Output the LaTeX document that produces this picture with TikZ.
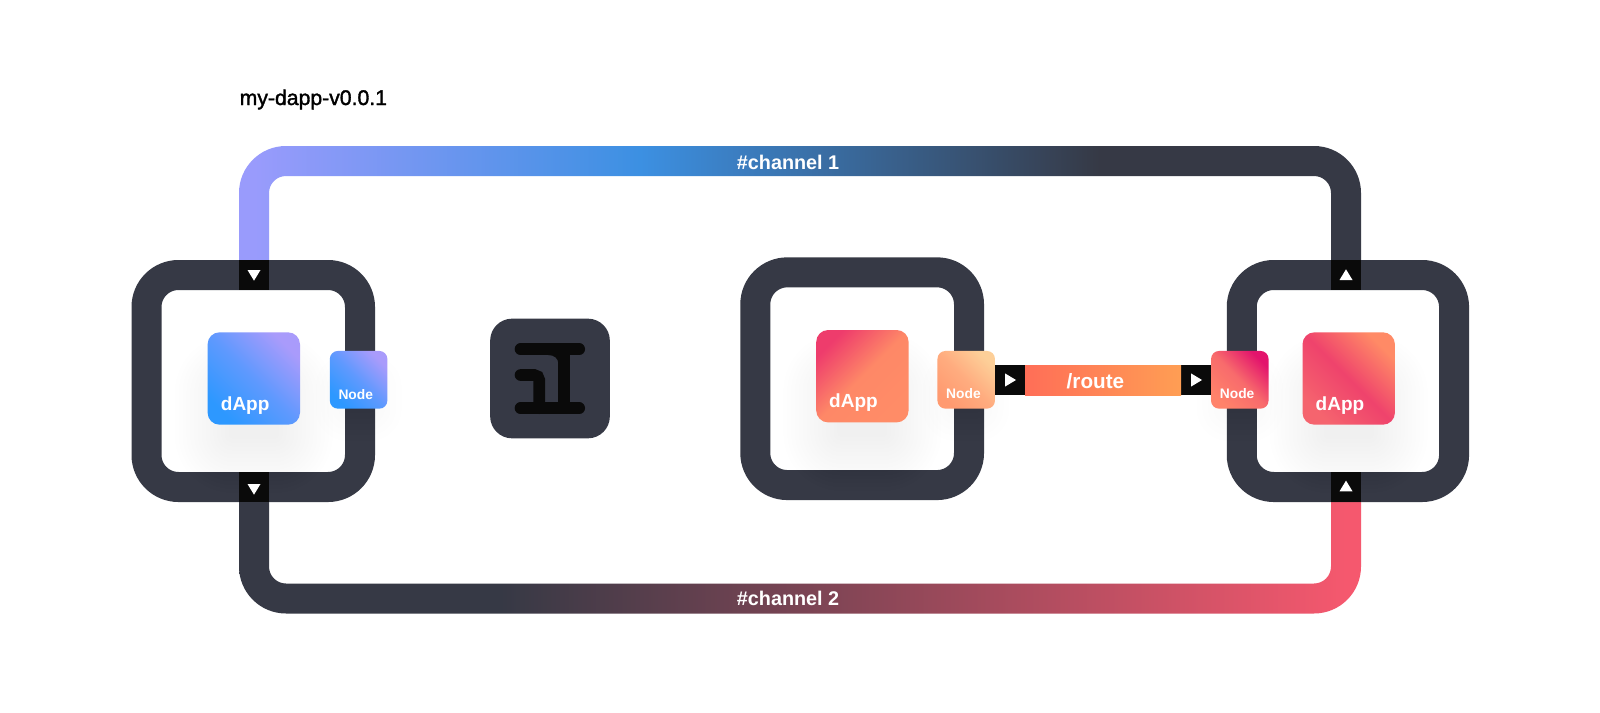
\documentclass[tikz,border=0pt]{standalone}
\usepackage{fontspec}
\setmainfont{Liberation Sans}
\newfontfamily\titlefont[FakeBold=1.6]{Liberation Sans}
\usetikzlibrary{backgrounds}
\definecolor{ringc}{HTML}{363945}
\definecolor{portc}{HTML}{0A0A0A}
\definecolor{shadowc}{HTML}{1E2A3A}
\definecolor{chA}{HTML}{999BFC}
\definecolor{chB}{HTML}{3C90E2}
\definecolor{chD}{HTML}{F5586E}
\definecolor{blA}{HTML}{A99BFB}
\definecolor{blM}{HTML}{5F99FE}
\definecolor{blB}{HTML}{2D98FF}
\definecolor{mdA}{HTML}{EE3C6C}
\definecolor{mdB}{HTML}{FE8867}
\definecolor{mdC}{HTML}{FF8C67}
\definecolor{rdA}{HTML}{FF8A66}
\definecolor{rdB}{HTML}{EF436C}
\definecolor{rdC}{HTML}{F5646E}
\definecolor{mnA}{HTML}{FDCF98}
\definecolor{mnB}{HTML}{FFAC7F}
\definecolor{mnC}{HTML}{FF9A70}
\definecolor{rnA}{HTML}{E3146C}
\definecolor{rnB}{HTML}{F86B6C}
\definecolor{rnC}{HTML}{FF826A}
\definecolor{rtA}{HTML}{FF6E57}
\definecolor{rtB}{HTML}{FF9E54}
\pgfdeclarehorizontalshading{chone}{100bp}{color(0bp)=(chA); color(25.67bp)=(chA); color(42.87bp)=(chB); color(63.37bp)=(ringc); color(100bp)=(ringc)}
\pgfdeclarehorizontalshading{chtwo}{100bp}{color(0bp)=(ringc); color(36.63bp)=(ringc); color(74.33bp)=(chD); color(100bp)=(chD)}
\pgfdeclarehorizontalshading{routesh}{100bp}{color(0bp)=(rtA); color(25bp)=(rtA); color(75bp)=(rtB); color(100bp)=(rtB)}
\pgfdeclarehorizontalshading{bluesh}{100bp}{color(0bp)=(blA); color(25bp)=(blA); color(50bp)=(blM); color(75bp)=(blB); color(100bp)=(blB)}
\pgfdeclarehorizontalshading{mdsh}{100bp}{color(0bp)=(mdA); color(25bp)=(mdA); color(50bp)=(mdB); color(75bp)=(mdC); color(100bp)=(mdC)}
\pgfdeclarehorizontalshading{rdsh}{100bp}{color(0bp)=(rdA); color(25bp)=(rdA); color(50bp)=(rdB); color(75bp)=(rdC); color(100bp)=(rdC)}
\pgfdeclarehorizontalshading{mnsh}{100bp}{color(0bp)=(mnA); color(25bp)=(mnA); color(50bp)=(mnB); color(75bp)=(mnC); color(100bp)=(mnC)}
\pgfdeclarehorizontalshading{rnsh}{100bp}{color(0bp)=(rnA); color(25bp)=(rnA); color(50bp)=(rnB); color(75bp)=(rnC); color(100bp)=(rnC)}
\pgfdeclarelayer{back}
\pgfsetlayers{back,main}
\tikzset{
  ring/.style={draw=ringc,line width=30pt,rounded corners=32pt,inner sep=0pt,outer sep=0pt,minimum width=#1},
  portbox/.style={fill=portc,inner sep=0pt,outer sep=0pt,minimum size=30pt},
  arrowtri/.style={fill=white},
  appbox/.style={shade,rounded corners=12pt,inner sep=0pt,outer sep=0pt,minimum size=92.4pt},
  nodebox/.style={shade,rounded corners=8pt,inner sep=0pt,outer sep=0pt,minimum width=57.5pt,minimum height=57.7pt},
  apptext/.style={text=white,anchor=base west,inner sep=0pt,font=\fontsize{19}{19}\selectfont\bfseries},
  nodetext/.style={text=white,anchor=base west,inner sep=0pt,font=\fontsize{13.8}{14}\selectfont\bfseries},
  chantext/.style={text=white,anchor=base west,inner sep=0pt,font=\fontsize{19.8}{20}\selectfont\bfseries},
  glyph/.style={draw=portc,line width=11.7pt,line cap=round}
}
% soft blurred shadow: stack of faint growing rectangles
\newcommand{\softshadow}[6]{% cx cy w h maxgrow layers
  \foreach \i in {0,...,#6}{
    \pgfmathsetmacro{\gr}{#5*\i/#6}
    \fill[shadowc,opacity=0.0045,rounded corners=\gr pt+4pt]
      (#1-#3/2-\gr,#2-#4/2-\gr) rectangle (#1+#3/2+\gr,#2+#4/2+\gr);
  }
}
\begin{document}
\begin{tikzpicture}[x=1pt,y=-1pt]
\useasboundingbox (0,0) rectangle (1600,712);
% ports
\node[portbox] (portTL) at (254,275) {};
\node[portbox] (portBL) at (254,487) {};
\node[portbox] (portTR) at (1346,275) {};
\node[portbox] (portBR) at (1346,487) {};
\coordinate (ctop) at (0,146);
\coordinate (ctopin) at (0,176);
\coordinate (cbot) at (0,613.5);
\coordinate (cbotin) at (0,583.5);
\fill[arrowtri] (247.5,270) -- (260.5,270) -- (254,280.7) -- cycle;
\fill[arrowtri] (247.5,484) -- (260.5,484) -- (254,494.7) -- cycle;
\fill[arrowtri] (1339.5,280) -- (1352.5,280) -- (1346,269.3) -- cycle;
\fill[arrowtri] (1339.5,491.3) -- (1352.5,491.3) -- (1346,480.6) -- cycle;
% route
\node[portbox] (portRa) at (1010,380) {};
\node[portbox] (portRb) at (1196,380) {};
\path[shade,shading=routesh] (portRa.north east) rectangle (portRb.south west);
\fill[arrowtri] (1005,373.4) -- (1016,380) -- (1005,386.6) -- cycle;
\fill[arrowtri] (1191,373.4) -- (1202,380) -- (1191,386.6) -- cycle;
\node[chantext,font=\fontsize{20.7}{21}\selectfont\bfseries] (routelabel) at (1066.5,388) {/route};
% app boxes
\node[appbox,shading=bluesh,shading angle=225] (appL) at (253.8,378.5) {};
\node[appbox,shading=mdsh,shading angle=-45] (appM) at (862.4,376.2) {};
\node[appbox,shading=rdsh,shading angle=225] (appR) at (1348.7,378.5) {};
\node[apptext] (appLt) at (220.7,410) {dApp};
\node[apptext] (appMt) at (829,407.5) {dApp};
\node[apptext] (appRt) at (1315.5,410) {dApp};
% node boxes
\node[nodebox,shading=bluesh,shading angle=225] (nodeL) at (358.6,379.8) {};
\node[nodebox,shading=mnsh,shading angle=225] (nodeM) at (966.2,379.8) {};
\node[nodebox,shading=rnsh,shading angle=225] (nodeR) at (1239.8,379.8) {};
\node[nodetext] (nodeLt) at (338.3,399) {Node};
\node[nodetext] (nodeMt) at (946,398.7) {Node};
\node[nodetext] (nodeRt) at (1219.7,398.7) {Node};
% logo
\node[fill=ringc,rounded corners=22pt,inner sep=0pt,outer sep=0pt,minimum size=119.7pt] (logo) at (550,378.5) {};
\fill[portc] (548,355) -- (558.4,355) -- (558.4,364) .. controls (558.4,358.5) and (554.5,355) .. (548,355) -- cycle;
\draw[glyph] (520.5,349.2) -- (579.2,349.2);
\draw[glyph] (520.5,408.2) -- (579.2,408.2);
\draw[glyph,line cap=butt] (564.2,349.2) -- (564.2,408.2);
\draw[glyph,line cap=round,rounded corners=5pt] (520.5,375) -- (539.2,375) -- (539.2,408.2);
% labels
\node[anchor=base west,inner sep=0pt,font=\fontsize{21.2}{21}\selectfont\titlefont] (title) at (239.5,105) {my-dapp-v0.0.1};
\node[chantext] (chone) at (736.7,169) {\#channel 1};
\node[chantext] (chtwo) at (736.7,605.5) {\#channel 2};
\begin{pgfonlayer}{back}
\fill[white] (0,0) rectangle (1600,712);
% channel ribbons
\path[shade,shading=chone] (portTL.north west) [rounded corners=47pt] -- (portTL.north west |- ctop) -- (portTR.north east |- ctop) [sharp corners] -- (portTR.north east) -- (portTR.north west) [rounded corners=17pt] -- (portTR.north west |- ctopin) -- (portTL.north east |- ctopin) [sharp corners] -- (portTL.north east) -- cycle;
\path[shade,shading=chtwo] (portBL.south west) [rounded corners=47pt] -- (portBL.south west |- cbot) -- (portBR.south east |- cbot) [sharp corners] -- (portBR.south east) -- (portBR.south west) [rounded corners=17pt] -- (portBR.south west |- cbotin) -- (portBL.south east |- cbotin) [sharp corners] -- (portBL.south east) -- cycle;
% rings
\node[ring=213.5pt,minimum height=212pt] (ringL) at (253.25,381) {};
\node[ring=213.7pt,minimum height=212.7pt] (ringM) at (862.15,378.7) {};
\node[ring=212.3pt,minimum height=212pt] (ringR) at (1347.9,381) {};
% shadows
\softshadow{253.8}{414}{50}{50}{54}{14}
\softshadow{862.4}{412}{50}{50}{54}{14}
\softshadow{1348.7}{414}{50}{50}{54}{14}
\softshadow{358.6}{398}{30}{30}{28}{5}
\softshadow{966.2}{398}{30}{30}{28}{5}
\softshadow{1239.8}{398}{30}{30}{28}{5}
\end{pgfonlayer}
\end{tikzpicture}
\end{document}
